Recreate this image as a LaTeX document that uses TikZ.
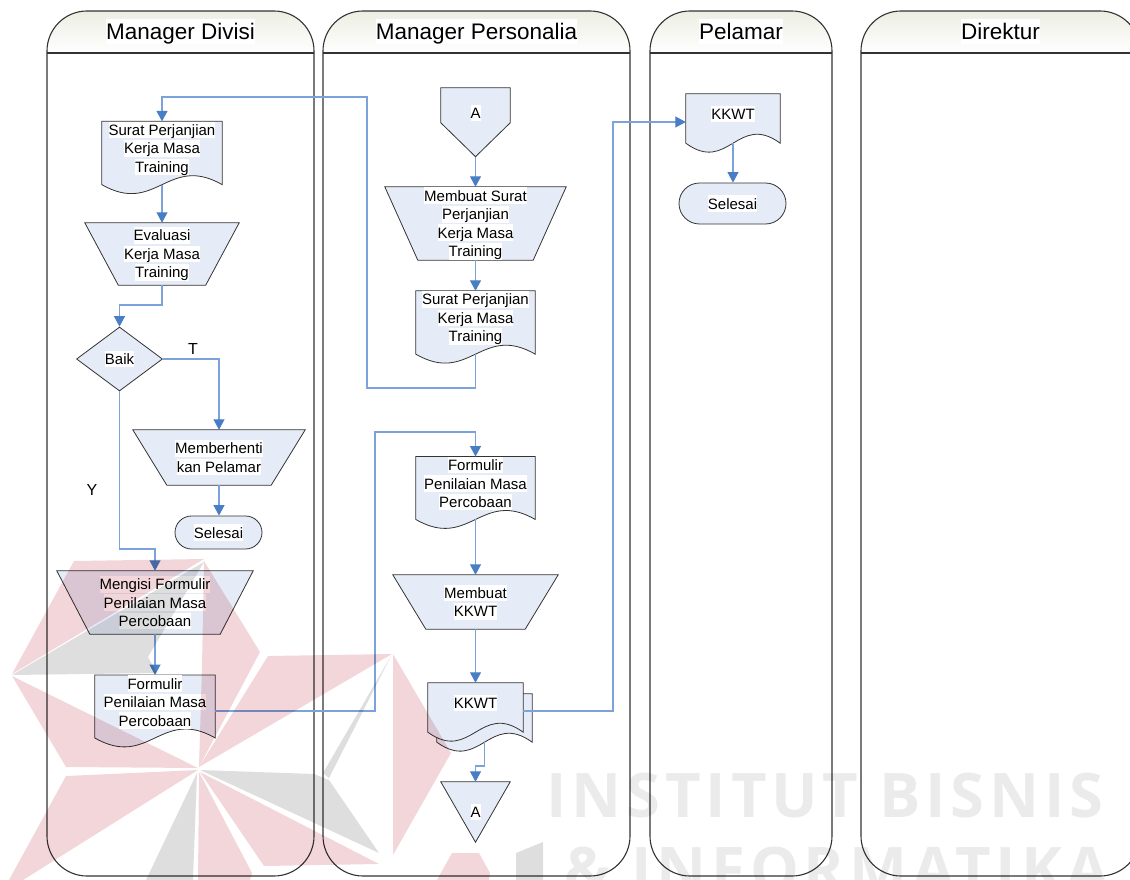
\documentclass[tikz,border=0pt]{standalone}
\usepackage{fontspec}
\setmainfont{Liberation Sans}
\newfontfamily\markfont[LetterSpace=8]{Open Sans}
\usetikzlibrary{arrows.meta,backgrounds,calc,shapes.geometric,shapes.misc}
\definecolor{shapefill}{HTML}{E6ECF7}
\definecolor{shapeline}{HTML}{333333}
\definecolor{flowline}{HTML}{7BA2DB}
\definecolor{flowtip}{HTML}{4A7EC4}
\definecolor{headtop}{HTML}{ECEEE2}
\definecolor{markpink}{HTML}{F2D6D9}
\definecolor{markgray}{HTML}{DEDEDE}
\definecolor{marktext}{HTML}{EBEBEB}
\newcommand{\wl}[1]{{\setlength{\fboxsep}{0pt}\colorbox{white}{\rule[-0.18em]{0pt}{1.1em}#1}}}
\tikzset{
    every node/.style={inner sep=0pt,font=\fontsize{15}{18.5}\selectfont,align=center},
    lanehead/.style={draw=shapeline,line width=1.1pt,top color=headtop,bottom color=white,rounded corners=40},
    lanebody/.style={draw=shapeline,line width=1.1pt,rounded corners=40},
    lanetitle/.style={font=\fontsize{22.5}{26}\selectfont},
    textbox/.style={minimum width=#1},
    solidshape/.style={draw=shapeline,line width=0.8pt,fill=shapefill},
    flow/.style={draw=flowline,line width=1.1pt,-{Triangle[width=11pt,length=10.5pt,color=flowtip]}},
}
\begin{document}
\begin{tikzpicture}[x=1pt,y=-1pt]
\useasboundingbox (0,0) rectangle (1130,880);
\clip (0,0) rectangle (1130,880);

% Swimlanes
\foreach \xa/\xb/\lane/\lanetext in {47/314/divisi/Manager Divisi,323/630/personalia/Manager Personalia,650/832/pelamar/Pelamar,861/1140/direktur/Direktur} {
    \draw[lanehead] (\xa,53) -- (\xa,11) -- (\xb,11) -- (\xb,53);
    \draw[draw=shapeline,line width=1.1pt] (\xa,53) -- (\xb,53);
    \draw[lanebody] (\xa,53) -- (\xa,876) -- (\xb,876) -- (\xb,53);
    \node[lanetitle] (title\lane) at ({(\xa+\xb)/2},31.5) {\wl{\lanetext}};
}

% Manager Divisi
\node[textbox=120,minimum height=53] (suratA) at (162,148.5) {\wl{Surat Perjanjian}\\\wl{Kerja Masa}\\\wl{Training}};
\node[textbox=154,minimum height=62] (evaluasi) at (162,254) {\wl{Evaluasi}\\\wl{Kerja Masa}\\\wl{Training}};
\node[solidshape,diamond,aspect=1.33,minimum width=86,minimum height=64] (baik) at (119.5,359) {\wl{Baik}};
\node (labelT) at (193,349) {\fontsize{16}{18}\selectfont T};
\node (labelY) at (92,490) {\fontsize{16}{18}\selectfont Y};
\node[textbox=172,minimum height=55] (berhenti) at (219,457.5) {\wl{Memberhenti}\\\wl{kan Pelamar}};
\node[solidshape,rounded rectangle,minimum width=87,minimum height=33] (selesaiA) at (218.5,532.5) {\wl{Selesai}};
\node[textbox=196,minimum height=63] (mengisi) at (155,602.5) {\wl{Mengisi Formulir}\\\wl{Penilaian Masa}\\\wl{Percobaan}};
\node[textbox=120,minimum height=53] (formA) at (155,702) {\wl{Formulir}\\\wl{Penilaian Masa}\\\wl{Percobaan}};

% Manager Personalia
\node[textbox=69,minimum height=50] (konA) at (475.5,113) {\wl{A}};
\node[textbox=181,minimum height=73] (msurat) at (475.5,223.5) {\wl{Membuat Surat}\\\wl{Perjanjian}\\\wl{Kerja Masa}\\\wl{Training}};
\node[textbox=119,minimum height=53] (suratB) at (475.5,318) {\wl{Surat Perjanjian}\\\wl{Kerja Masa}\\\wl{Training}};
\node[textbox=119,minimum height=53] (formB) at (475.5,483.5) {\wl{Formulir}\\\wl{Penilaian Masa}\\\wl{Percobaan}};
\node[textbox=165,minimum height=54] (mkkwt) at (475.5,602) {\wl{Membuat}\\\wl{KKWT}};
\node[textbox=95,minimum height=39] (kkwtback) at (484.5,713.5) {};
\node[textbox=95,minimum height=40] (kkwtA) at (475.5,703) {\wl{KKWT}};
\node[textbox=69,minimum height=60] (konB) at (475.5,812) {\wl{A}};

% Pelamar
\node[textbox=94,minimum height=40] (kkwtB) at (733,114) {\wl{KKWT}};
\node[solidshape,rounded rectangle,minimum width=107,minimum height=41] (selesaiB) at (732.5,203.5) {\wl{Selesai}};

% Outlines behind the texts
\begin{scope}[on background layer]
    \foreach \name in {suratA,suratB,formA,formB,kkwtback,kkwtA,kkwtB} {
        \draw[solidshape] (\name.north west) -- (\name.north east) -- ($(\name.south east)+(0,9)$)
            .. controls ($(\name.south west)!0.55!(\name.south east)+(0,-22)$) and ($(\name.south west)!0.45!(\name.south east)+(0,40)$) .. ($(\name.south west)+(0,9)$) -- cycle;
    }
    \foreach \name/\inset in {evaluasi/33.5,berhenti/34,mengisi/33,msurat/33,mkkwt/33} {
        \draw[solidshape] (\name.north west) -- (\name.north east) -- ($(\name.south east)+(-\inset,0)$) -- ($(\name.south west)+(\inset,0)$) -- cycle;
    }
    \draw[solidshape] (konA.north west) -- (konA.north east) -- ($(konA.north east)+(0,35)$) -- ($(konA.south)+(0,18.5)$) -- ($(konA.north west)+(0,35)$) -- cycle;
    \draw[solidshape] (konB.north west) -- (konB.north east) -- (konB.south) -- cycle;
\end{scope}

% Connectors
\draw[flow] ([yshift=-9pt]suratB.south) -- (475.5,388) -- (367,388) -- (367,97) -| (suratA.north);
\draw[flow] ([yshift=-9pt]suratA.south) -- (evaluasi.north);
\draw[flow] (evaluasi.south) -- (162,305) -| (baik.north);
\draw[flow] (baik.east) -| (berhenti.north);
\draw[flow] (berhenti.south) -- (selesaiA.north -| berhenti.south);
\draw[flow] (baik.south) -- (119.5,549) -| (mengisi.north);
\draw[flow] (mengisi.south) -- (formA.north);
\draw[flow] ([yshift=-9pt]formA.east) -- (375,711) -- (375,432) -| (formB.north);
\draw[flow] ([yshift=-18.5pt]konA.south) -- (msurat.north);
\draw[flow] (msurat.south) -- (suratB.north);
\draw[flow] ([yshift=-9pt]formB.south) -- (mkkwt.north);
\draw[flow] (mkkwt.south) -- (kkwtA.north);
\draw[flow] ([yshift=-8pt]kkwtA.east) -- (613,711) -- (613,122) -- ([yshift=-8pt]kkwtB.west);
\draw[flow] ([yshift=-9pt]kkwtback.south) -- (484.5,766) -| (konB.north);
\draw[flow] ([yshift=-9pt]kkwtB.south) -- (selesaiB.north -| kkwtB.south);

% Watermark
\begin{scope}[blend mode=multiply]
    \fill[markpink] (12,674) -- (74,561) -- (204,559) -- cycle;
    \fill[markgray] (12,675) -- (204,562) -- (148,657) -- (157,673) -- cycle;
    \fill[markpink] (204,561) -- (260,652) -- (199,767) -- (202,667) -- cycle;
    \fill[markpink] (12,676) -- (198,768) -- (66,767) -- cycle;
    \fill[markpink] (199,767) -- (268,656) -- (392,654) -- cycle;
    \fill[markpink] (198,770) -- (66,776) -- (9,880) -- (23,880) -- cycle;
    \fill[markgray] (200,770) -- (314,774) -- (329,780) -- (379,853) -- cycle;
    \fill[markgray] (391,656) -- (323,773) -- (329,778) -- cycle;
    \fill[markpink] (393,654) -- (451,753) -- (393,855) -- cycle;
    \fill[markpink] (200,772) -- (264,866) -- (379,864) -- cycle;
    \fill[markpink] (199,772) -- (252,873) -- (250,880) -- (198,880) -- cycle;
    \fill[markgray] (197,773) -- (193,880) -- (146,880) -- cycle;
    \fill[markpink] (437,880) -- (452,853) -- (479,853) -- (490,873) -- (489,880) -- cycle;
    \fill[markgray] (516,853) -- (543,842) -- (543,880) -- (516,880) -- cycle;
    \node[anchor=base west,text=marktext,font=\markfont\bfseries\fontsize{61.5}{62}\selectfont] (markA) at (546,817) {INSTITUT BISNIS};
    \node[anchor=base west,text=marktext,font=\markfont\bfseries\fontsize{61.5}{62}\selectfont] (markB) at (564,891) {\& INFORMATIKA};
\end{scope}
\end{tikzpicture}
\end{document}
